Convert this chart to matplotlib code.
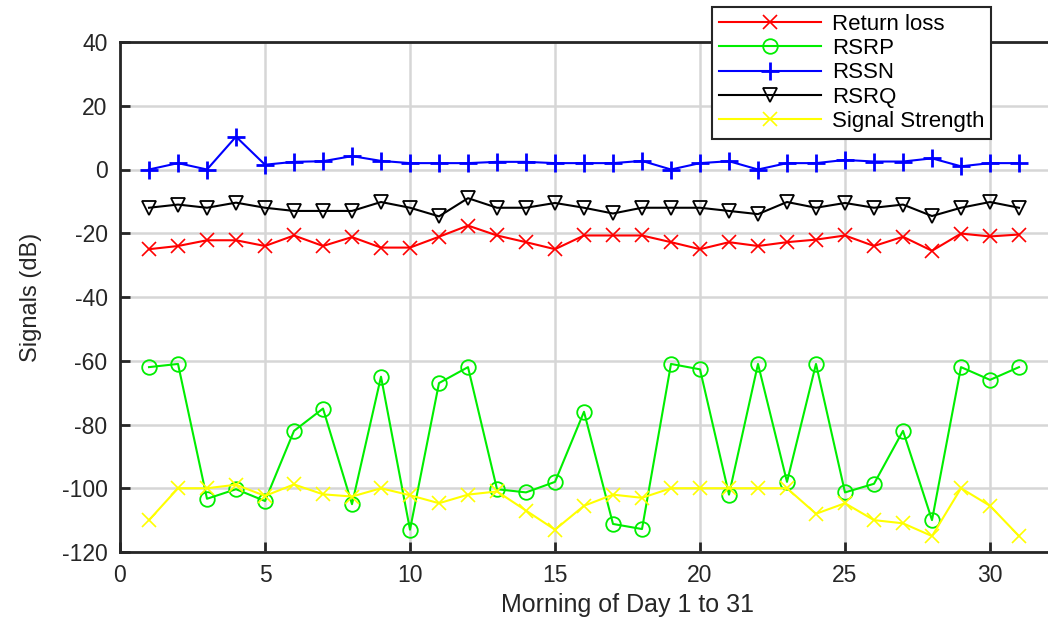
import matplotlib.pyplot as plt

days = list(range(1, 32))

return_loss = [-25, -24, -22.2, -22.2, -24, -20.7, -24, -21.2, -24.5, -24.5,
               -21.1, -17.6, -20.7, -22.8, -25, -20.7, -20.7, -20.7, -22.8, -25,
               -22.8, -24, -22.8, -22, -20.7, -24, -21.1, -25.5, -20.1, -21, -20.4]
rsrp = [-62, -61, -103.3, -100.3, -104, -82, -75, -105, -65, -113,
        -67, -62, -100.3, -101.3, -98, -76, -111.2, -112.8, -61, -62.7,
        -102, -61, -98, -61, -101.3, -98.6, -82, -110, -62, -66, -62]
rssn = [0, 2, 0, 10.3, 1.5, 2.4, 2.6, 4.2, 2.7, 2,
        2, 2, 2.4, 2.4, 2, 2, 2, 2.7, 0, 2,
        2.6, 0, 2, 2, 3, 2.5, 2.5, 3.5, 1, 2, 2]
rsrq = [-12, -11, -12, -10.4, -12, -13, -13, -13, -10.2, -12,
        -14.7, -9, -12, -12, -10.5, -12, -13.8, -12, -12, -12,
        -13, -14, -10.2, -12, -10.5, -12, -11, -14.6, -12, -10.2, -12]
signal_strength = [-110, -100, -100, -98.9, -102.4, -98.8, -101.9, -102.6, -100, -102.2,
                   -104.7, -102, -101, -107, -113, -105.5, -102, -103, -100, -100,
                   -100, -100, -100, -108, -104.7, -110, -111, -115, -100, -105.5, -115]

xticks = [0, 5, 10, 15, 20, 25, 30]
yticks = [-120, -100, -80, -60, -40, -20, 0, 20, 40]

plt.rcParams['font.family'] = ['Liberation Sans', 'DejaVu Sans']
plt.rcParams['axes.unicode_minus'] = False

fig = plt.figure(figsize=(10.48, 6.22), dpi=100)
# axes runs off the right edge like the original image
ax = fig.add_axes([120 / 1048, 70 / 622, 1015 / 1048, 510 / 622])

ms = 10.5
lw = 1.5
ax.plot(days, return_loss, color='#ff0000', marker='x', ms=ms, mew=1.2, lw=lw, label='Return loss')
ax.plot(days, rsrp, color='#00ee00', marker='o', ms=ms, mfc='none', mew=1.3, lw=lw, label='RSRP')
ax.plot(days, rssn, color='#0000ff', marker='+', ms=ms + 2, mew=2, lw=lw, label='RSSN')
ax.plot(days, rsrq, color='black', marker='v', ms=ms, mfc='none', mew=1.3, lw=lw, label='RSRQ')
ax.plot(days, signal_strength, color='#ffff00', marker='x', ms=ms, mew=1.2, lw=lw, label='Signal Strength')

ax.set_xlim(0, 35)
ax.set_ylim(-120, 40)
ax.set_xticks(xticks)
ax.set_yticks(yticks)
ax.grid(True, color='#d6d6d6', lw=1.8)
ax.set_axisbelow(True)
ax.tick_params(direction='in', length=7, width=2, labelsize=16.5, color='#262626',
               labelcolor='#262626', pad=9)
for s in ax.spines.values():
    s.set_linewidth(2)
    s.set_color('#262626')

ax.set_xlabel('Morning of Day 1 to 31', fontsize=18, color='#262626', labelpad=4)
ax.set_ylabel('Signals (dB)', fontsize=17, color='#262626', labelpad=14)

leg = fig.legend(loc='upper left', bbox_to_anchor=(712 / 1048, 1 - 7 / 622),
                 frameon=True, fancybox=False, handlelength=4.6,
                 borderpad=0.3, labelspacing=0.15, handletextpad=0.5, borderaxespad=0,
                 prop={'size': 16})
leg.get_frame().set_edgecolor('#262626')
leg.get_frame().set_linewidth(1.5)
leg.get_frame().set_alpha(1)

fig.savefig('out.png', dpi=100)
